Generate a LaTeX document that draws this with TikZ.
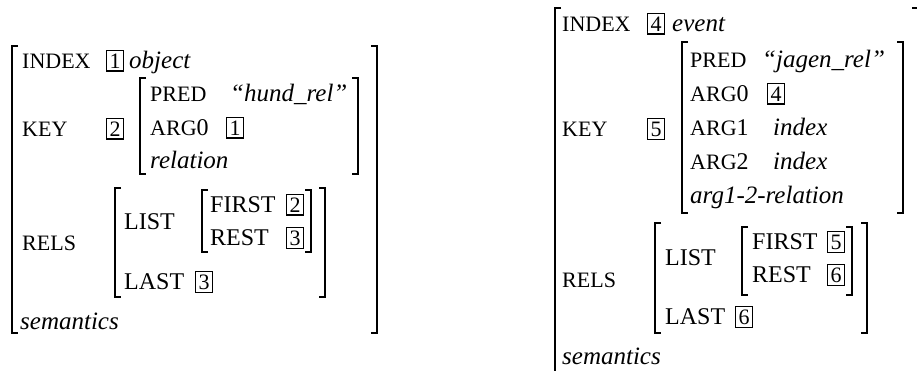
\documentclass[tikz,border=0pt]{standalone}
\usepackage{fontspec}
\setmainfont{Liberation Serif}
\begin{document}
\begin{tikzpicture}[x=1pt,y=-1pt]
\tikzset{
 lab/.style={anchor=base west, inner sep=0pt, font=\fontsize{22}{22}\selectfont},
 txt/.style={anchor=base west, inner sep=0pt, font=\fontsize{24}{24}\selectfont},
 typ/.style={anchor=base west, inner sep=0pt, font=\fontsize{25}{25}\selectfont\itshape},
 tag/.style={anchor=base, draw, line width=1.4pt, inner sep=3pt, font=\fontsize{22}{22}\selectfont},
 brk/.style={line width=1.1pt},
}
\newcommand\LBr[3]{\draw[brk] ({#1+6},#2) -- (#1,#2) -- (#1,#3) -- ({#1+6},#3);}
\newcommand\RBr[3]{\draw[brk] ({#1-6},#2) -- (#1,#2) -- (#1,#3) -- ({#1-6},#3);}
\useasboundingbox (0,0) rectangle (917,370);
\clip (0,0) rectangle (917,370);
% ---------------- left AVM
\LBr{12}{46}{333}
\RBr{377}{46}{333}
\node[lab] (lindex) at (22,68) {INDEX};
\node[tag] (lt1) at (115,68) {1};
\node[typ] (lobj) at (129,68) {object};
\node[lab] (lkey) at (22,136) {KEY};
\node[tag] (lt2) at (115,136) {2};
\LBr{140}{78}{174}
\RBr{358}{78}{174}
\node[lab] (lpred) at (150,101.5) {PRED};
\node[typ] (lhund) at (230,101.5) {“hund\_rel”};
\node[lab] (larg0) at (150,135) {ARG\fontsize{24}{24}\selectfont 0};
\node[tag] (lt1b) at (235,135) {1};
\node[typ] (lrel) at (150,168.5) {relation};
\node[lab] (lrels) at (22,250) {RELS};
\LBr{115}{188}{297}
\RBr{325}{188}{297}
\node[txt] (llist) at (124,229) {LIST};
\LBr{202}{190}{252}
\RBr{311}{190}{252}
\node[txt] (lfirst) at (210,212) {FIRST};
\node[tag] (lt2b) at (295,212) {2};
\node[txt] (lrest) at (210,245) {REST};
\node[tag] (lt3) at (295,245) {3};
\node[txt] (llast) at (124,289) {LAST};
\node[tag] (lt3b) at (204,289) {3};
\node[typ] (lsem) at (20,329) {semantics};
% ---------------- right AVM
\LBr{555}{8}{400}
\RBr{918}{8}{400}
\node[lab] (rindex) at (562,31) {INDEX};
\node[tag] (rt4) at (656,31) {4};
\node[typ] (revent) at (672,31) {event};
\node[lab] (rkey) at (562,136) {KEY};
\node[tag] (rt5) at (656,136) {5};
\LBr{682}{42}{213}
\RBr{903}{42}{213}
\node[lab] (rpred) at (690,67) {PRED};
\node[typ] (rjagen) at (762,67) {“jagen\_rel”};
\node[lab] (rarg0) at (690,101) {ARG\fontsize{24}{24}\selectfont 0};
\node[tag] (rt4b) at (776,101) {4};
\node[lab] (rarg1) at (690,135) {ARG\fontsize{24}{24}\selectfont 1};
\node[typ] (ridx1) at (773,135) {index};
\node[lab] (rarg2) at (690,169) {ARG\fontsize{24}{24}\selectfont 2};
\node[typ] (ridx2) at (773,169) {index};
\node[typ] (rrel) at (690,203) {arg1-2-relation};
\node[lab] (rrels) at (562,287) {RELS};
\LBr{655}{223}{333}
\RBr{867}{223}{333}
\node[txt] (rlist) at (665,265) {LIST};
\LBr{742}{227}{295}
\RBr{852}{227}{295}
\node[txt] (rfirst) at (752,249) {FIRST};
\node[tag] (rt5b) at (836,249) {5};
\node[txt] (rrest) at (752,282) {REST};
\node[tag] (rt6) at (836,282) {6};
\node[txt] (rlast) at (665,324) {LAST};
\node[tag] (rt6b) at (744,324) {6};
\node[typ] (rsem) at (562,364) {semantics};
\end{tikzpicture}
\end{document}
